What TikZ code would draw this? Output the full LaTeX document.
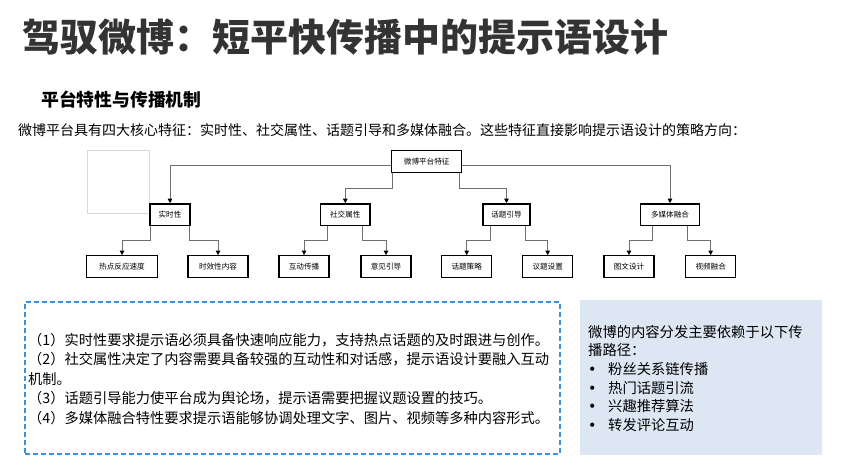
\documentclass[tikz,border=0pt]{standalone}
\usepackage{fontspec}
\setmainfont{Noto Sans CJK SC}
\newfontfamily\dotfont{DejaVu Sans}
\usetikzlibrary{arrows.meta}
\definecolor{titlegray}{HTML}{333333}
\definecolor{edgegray}{HTML}{6E6E6E}
\definecolor{dashblue}{HTML}{3D8FD6}
\definecolor{panelblue}{HTML}{DDE7F4}
\newcommand{\pathitem}{\makebox[20pt][l]{\dotfont •}}

\begin{document}
\begin{tikzpicture}[x=1pt,y=-1pt,
    box/.style={draw=black,line width=1.3pt,fill=white,inner sep=0pt,
      minimum height=21.5pt,font=\fontsize{7.6}{9}\selectfont},
    link/.style={draw=edgegray,line width=0.9pt,
      -{Triangle[length=4.5pt,width=4.5pt,color=black]}},
    txt/.style={anchor=west,inner sep=0pt,align=left}]

      \useasboundingbox (0,0) rectangle (844,474);

      % headings
      \node[txt,text=titlegray,font=\fontsize{38}{40}\selectfont\bfseries] (title) at (22,37.5)
        {驾驭微博：短平快传播中的提示语设计};
      \node[txt,font=\fontsize{17.8}{20}\selectfont\bfseries] (sub) at (41,100)
        {平台特性与传播机制};
      \node[txt,font=\fontsize{14}{16}\selectfont] (intro) at (18,130)
        {微博平台具有四大核心特征：实时性、社交属性、话题引导和多媒体融合。这些特征直接影响提示语设计的策略方向：};

      \node[draw=black!15,line width=0.8pt,minimum width=62pt,minimum height=63pt] (blank) at (118,181.5) {};

      \begin{scope}[every node/.style={box}]
        \node[minimum width=70pt] (root) at (426.7,161.5) {微博平台特征};

        \node[minimum width=40pt] (shi) at (170,214.6)   {实时性};
        \node[minimum width=49.5pt] (soc) at (345.3,214.6) {社交属性};
        \node[minimum width=47pt] (topic) at (506.5,214.6) {话题引导};
        \node[minimum width=59pt] (media) at (670,214.6)  {多媒体融合};

        \node[minimum width=70.6pt] (hot) at (122,266.5) {热点反应速度};
        \node[minimum width=60pt] (fresh) at (218,266.5) {时效性内容};
        \node[minimum width=50pt] (inter) at (304,266.5) {互动传播};
        \node[minimum width=50pt] (opin) at (386,266.5)  {意见引导};
        \node[minimum width=50pt] (strat) at (466.7,266.5) {话题策略};
        \node[minimum width=50pt] (agenda) at (547.7,266.5) {议题设置};
        \node[minimum width=50pt] (pic) at (629,266.5)   {图文设计};
        \node[minimum width=50pt] (video) at (710.7,266.5) {视频融合};
      \end{scope}

      \begin{scope}[every path/.style={link}]
        \draw ([yshift=-3.5pt]root.west) -| (shi.north);
        \draw ([xshift=-34pt]root.south) -- ++(0,15.7) -| (soc.north);
        \draw ([xshift=32.6pt]root.south) -- ++(0,15.7) -| (topic.north);
        \draw ([yshift=-3.5pt]root.east) -| (media.north);

        \draw ([xshift=-19.5pt]shi.south) -- ++(0,14.7) -| (hot.north);
        \draw ([xshift=19.5pt]shi.south) -- ++(0,14.7) -| (fresh.north);
        \draw ([xshift=-17.5pt]soc.south) -- ++(0,14.7) -| (inter.north);
        \draw ([xshift=17.5pt]soc.south) -- ++(0,14.7) -| (opin.north);
        \draw ([xshift=-16.5pt]topic.south) -- ++(0,14.7) -| (strat.north);
        \draw ([xshift=18.5pt]topic.south) -- ++(0,14.7) -| (agenda.north);
        \draw ([xshift=-18pt]media.south) -- ++(0,14.7) -| (pic.north);
        \draw ([xshift=17.5pt]media.south) -- ++(0,14.7) -| (video.north);
      \end{scope}

      % notes and propagation paths
      \node[draw=dashblue,line width=1.6pt,dash pattern=on 5pt off 3pt,
        minimum width=535pt,minimum height=152pt] (notebox) at (292.5,378) {};
      \node[txt,font=\fontsize{14.25}{19.5}\selectfont] (notes) at (28,379)
        {（1）实时性要求提示语必须具备快速响应能力，支持热点话题的及时跟进与创作。\\
         （2）社交属性决定了内容需要具备较强的互动性和对话感，提示语设计要融入互动\\
         机制。\\
         （3）话题引导能力使平台成为舆论场，提示语需要把握议题设置的技巧。\\
         （4）多媒体融合特性要求提示语能够协调处理文字、图片、视频等多种内容形式。};

      \node[fill=panelblue,minimum width=242pt,minimum height=155pt] (panel) at (701,377.5) {};
      \node[txt,font=\fontsize{14.3}{18.7}\selectfont] (paths) at (588,378.3)
        {微博的内容分发主要依赖于以下传\\
         播路径：\\
         \pathitem 粉丝关系链传播\\
         \pathitem 热门话题引流\\
         \pathitem 兴趣推荐算法\\
         \pathitem 转发评论互动};

    \end{tikzpicture}
\end{document}
